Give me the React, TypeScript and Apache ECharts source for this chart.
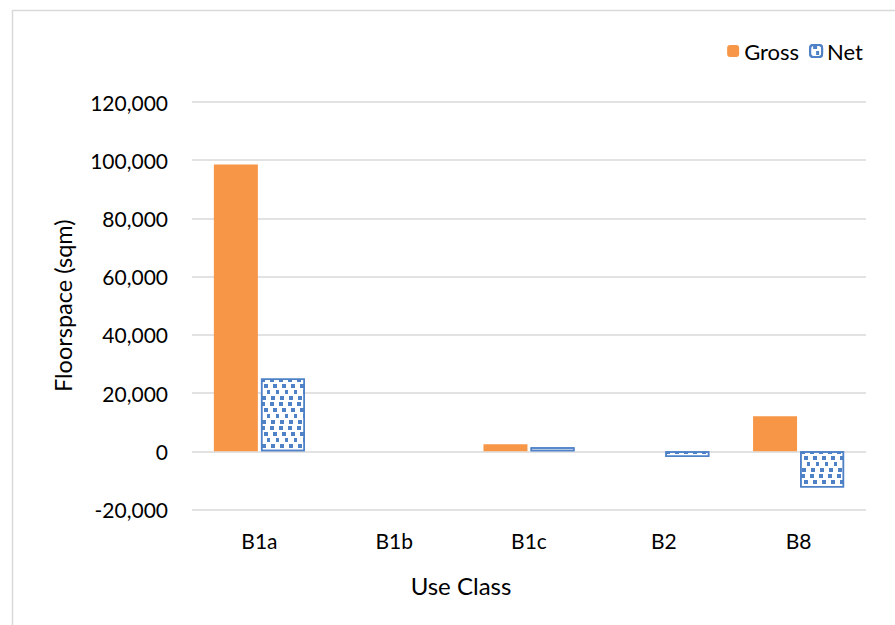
import React, { useEffect, useRef } from "react";
import * as echarts from "echarts";

const categories = ["B1a", "B1b", "B1c", "B2", "B8"];
const grossValues = [98500, null, 2400, null, 12000];
const netValues = [25000, null, 1400, -2000, -12400];
const yMin = -20000;
const yMax = 120000;
const yInterval = 20000;

const FONT = "Lato, 'Open Sans', sans-serif";
const ORANGE = "#F79646";
const BLUE = "#4F81C7";

export default function App() {
  const ref = useRef<HTMLDivElement>(null);
  useEffect(() => {
    if (!ref.current) return;
    const chart = echarts.init(ref.current, null, { renderer: "svg" });
    chart.setOption({
      animation: false,
      backgroundColor: "#ffffff",
      textStyle: { fontFamily: FONT },
      graphic: [
        {
          type: "rect",
          shape: { x: 12.5, y: 10.5, width: 1000, height: 1000 },
          style: { fill: "none", stroke: "#d9d9d9", lineWidth: 1.5 },
          silent: true,
          z: -10,
        },
        {
          type: "text",
          x: 461,
          y: 585,
          style: {
            text: "Use Class",
            fontFamily: FONT,
            fontSize: 24,
            fill: "#000000",
            textAlign: "center",
            textVerticalAlign: "middle",
          },
        },
      ],
      legend: {
        top: 35,
        right: 27,
        itemWidth: 12,
        itemHeight: 12,
        itemGap: 10,
        textStyle: { fontFamily: FONT, fontSize: 22, color: "#000" },
        data: ["Gross", "Net"],
      },
      grid: { left: 192, right: 29, top: 102, bottom: 115.5 },
      xAxis: {
        type: "category",
        data: categories,
        axisLine: { show: false },
        axisTick: { show: false },
        axisLabel: { fontFamily: FONT, fontSize: 21, color: "#000", margin: 20 },
      },
      yAxis: {
        type: "value",
        min: yMin,
        max: yMax,
        interval: yInterval,
        name: "Floorspace (sqm)",
        nameLocation: "middle",
        nameGap: 117,
        nameTextStyle: { fontFamily: FONT, fontSize: 23.5, color: "#000" },
        axisLine: { show: false },
        axisTick: { show: false },
        splitLine: { lineStyle: { color: "#d9d9d9", width: 1.5 } },
        axisLabel: {
          fontFamily: FONT,
          fontSize: 21,
          color: "#000",
          margin: 24,
          formatter: (v: number) => v.toLocaleString("en-US"),
        },
      },
      series: [
        {
          name: "Gross",
          type: "bar",
          data: grossValues,
          barWidth: 44,
          barGap: "7%",
          itemStyle: { color: ORANGE },
        },
        {
          name: "Net",
          type: "bar",
          data: netValues,
          barWidth: 44,
          itemStyle: {
            color: "#ffffff",
            borderColor: BLUE,
            borderWidth: 1.5,
            decal: {
              symbol: "rect",
              symbolSize: 1,
              color: BLUE,
              backgroundColor: "#ffffff",
              dashArrayX: [[4, 5], [0, 3, 4, 2], [0, 6, 3, 0], [0, 1, 4, 4]],
              dashArrayY: [4, 2],
              rotation: 0,
            },
          },
        },
      ],
    });
    return () => chart.dispose();
  }, []);
  return (
    <div
      ref={ref}
      style={{ position: "fixed", left: 0, top: 0, width: 895, height: 625 }}
    />
  );
}
